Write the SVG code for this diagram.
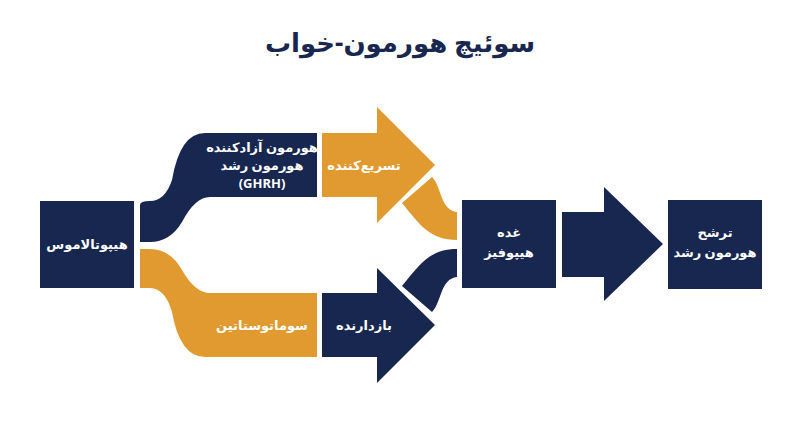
<svg xmlns="http://www.w3.org/2000/svg" width="800" height="447" viewBox="0 0 800 447">
<style>
.n{fill:#182750}.o{fill:#e19a30}
text{font-family:"Noto Sans","DejaVu Sans",sans-serif;font-weight:bold;fill:#fff;text-anchor:middle}
.t{font-size:13px}
</style>
<rect width="800" height="447" fill="#fff"/>
<text x="400" y="52" style="font-size:26px;fill:#182750">سوئیچ هورمون-خواب</text>
<g id="connectors">
<path class="n" d="M140,205 Q140,201 150,201 Q165,201 172,180 Q180,133 205,133 L317,133 L317,197 L210,197 Q195,197 182,222 Q170,242 150,242 L140,242 Z"/>
<path class="o" d="M140,249 L150,249 Q170,249 182,270 Q195,293 210,293 L317,293 L317,357 L205,357 Q180,357 172,312 Q165,288 150,288 L140,288 Z"/>
<path class="o" d="M402,203 L432,177 C442,187 440,210 457,212 L457,240 C430,240 420,225 402,203 Z"/>
<path class="n" d="M402,286 L432,312 C442,302 440,279 457,277 L457,249 C430,249 420,264 402,286 Z"/>
</g>
<g id="accel"><path class="o" d="M322,133 L377,133 L377,107 L435,165 L377,223 L377,197 L322,197 Z"/><text class="t" x="364" y="170">تسریع‌کننده</text></g>
<g id="inhib"><path class="n" d="M322,293 L377,293 L377,268 L435,325 L377,383 L377,357 L322,357 Z"/><text class="t" x="364" y="330">بازدارنده</text></g>
<g id="ghrh"><text class="t" x="262" y="152">هورمون آزادکننده</text><text class="t" x="262" y="170">هورمون رشد</text><text class="t" x="262" y="188">(GHRH)</text></g>
<g id="soma"><text class="t" x="262" y="330">سوماتوستاتین</text></g>
<g id="hypothalamus"><rect class="n" x="40" y="201" width="94" height="87"/><text class="t" x="87" y="249">هیپوتالاموس</text></g>
<g id="pituitary"><rect class="n" x="462" y="200" width="94" height="88"/><text class="t" x="509" y="237">غده</text><text class="t" x="509" y="257">هیپوفیز</text></g>
<g id="bigarrow"><path class="n" d="M562,212 L604,212 L604,187 L663,244 L604,301 L604,277 L562,277 Z"/></g>
<g id="gh"><rect class="n" x="668" y="200" width="94" height="89"/><text class="t" x="715" y="237">ترشح</text><text class="t" x="715" y="257">هورمون رشد</text></g>
</svg>
